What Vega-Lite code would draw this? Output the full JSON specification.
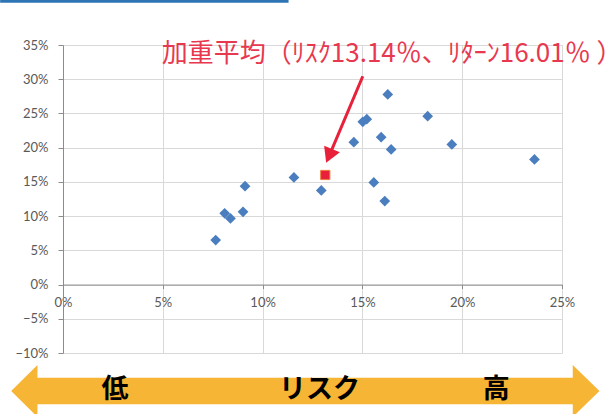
{
  "$schema": "https://vega.github.io/schema/vega-lite/v6.json",
  "width": 499,
  "height": 308,
  "autosize": {"type": "none"},
  "padding": {"left": 63, "top": 45, "right": 53, "bottom": 61},
  "background": "white",
  "config": {
    "view": {"stroke": null},
    "axis": {
      "labelFont": "Lato",
      "labelFontSize": 13,
      "labelColor": "#595959",
      "gridColor": "#D9D9D9",
      "gridWidth": 1,
      "domainColor": "#8C8C8C",
      "tickColor": "#8C8C8C",
      "title": null
    }
  },
  "layer": [
    {
      "data": {"values": [
        {"x": 0.0765, "y": 0.065},
        {"x": 0.081, "y": 0.104},
        {"x": 0.0839, "y": 0.0966},
        {"x": 0.0902, "y": 0.1063},
        {"x": 0.0912, "y": 0.1438},
        {"x": 0.1157, "y": 0.1565},
        {"x": 0.1294, "y": 0.1375},
        {"x": 0.1457, "y": 0.208},
        {"x": 0.1502, "y": 0.2377},
        {"x": 0.1522, "y": 0.2416},
        {"x": 0.1557, "y": 0.1492},
        {"x": 0.1594, "y": 0.2153},
        {"x": 0.1612, "y": 0.1219},
        {"x": 0.1627, "y": 0.2777},
        {"x": 0.1644, "y": 0.1974},
        {"x": 0.1827, "y": 0.246},
        {"x": 0.1948, "y": 0.2047},
        {"x": 0.2362, "y": 0.1828}
      ]},
      "mark": {"type": "point", "shape": "diamond", "filled": true, "size": 115, "color": "#4A7EBF", "opacity": 1},
      "encoding": {
        "x": {"field": "x", "type": "quantitative",
          "scale": {"domain": [0, 0.25], "nice": false, "zero": false},
          "axis": {"values": [0, 0.05, 0.1, 0.15, 0.2, 0.25], "tickCount": 20, "format": ".0%", "offset": -68.44, "grid": true, "tickSize": 4, "labelPadding": 8, "labelFlush": false}},
        "y": {"field": "y", "type": "quantitative",
          "scale": {"domain": [-0.1, 0.35], "nice": false, "zero": false},
          "axis": {"values": [-0.1, -0.05, 0, 0.05, 0.1, 0.15, 0.2, 0.25, 0.3, 0.35], "tickCount": 20, "format": ".0%", "grid": true, "tickSize": 5, "labelPadding": 10, "labelOverlap": false}}
      }
    },
    {
      "data": {"values": [{"x": 0.1314, "y": 0.1601}]},
      "mark": {"type": "point", "shape": "square", "filled": true, "size": 85, "fill": "#E8203A", "stroke": "#F07C3C", "strokeWidth": 1, "opacity": 1},
      "encoding": {
        "x": {"field": "x", "type": "quantitative"},
        "y": {"field": "y", "type": "quantitative"}
      }
    },
    {
      "data": {"values": [{"x": 0.1502, "y": 0.3044, "x2": 0.1342, "y2": 0.1939}]},
      "mark": {"type": "rule", "color": "#E8203A", "strokeWidth": 3},
      "encoding": {
        "x": {"field": "x", "type": "quantitative"},
        "y": {"field": "y", "type": "quantitative"},
        "x2": {"field": "x2"},
        "y2": {"field": "y2"}
      }
    },
    {
      "data": {"values": [{"x": 0.13185, "y": 0.1778}]},
      "mark": {"type": "point", "shape": "M0,0L-0.57,-1L0.57,-1Z", "filled": true, "size": 900, "color": "#E8203A", "opacity": 1, "angle": 22.9},
      "encoding": {
        "x": {"field": "x", "type": "quantitative"},
        "y": {"field": "y", "type": "quantitative"}
      }
    },
    {
      "data": {"values": [{"x": 0.0495, "y": 0.3365, "label": "加重平均（ﾘｽｸ13.14％、ﾘﾀｰﾝ16.01％ ）"}]},
      "mark": {"type": "text", "align": "left", "baseline": "middle", "font": "Noto Sans CJK JP", "fontSize": 26, "color": "#E8384F"},
      "encoding": {
        "x": {"field": "x", "type": "quantitative"},
        "y": {"field": "y", "type": "quantitative"},
        "text": {"field": "label"}
      }
    },
    {
      "data": {"values": [{"x": -0.0315, "x2": 0.113, "y": 0.4139}]},
      "mark": {"type": "rule", "color": "#2E75B6", "strokeWidth": 3},
      "encoding": {
        "x": {"field": "x", "type": "quantitative"},
        "x2": {"field": "x2"},
        "y": {"field": "y", "type": "quantitative"}
      }
    },
    {
      "data": {"values": [{"x": 0.1214, "y": -0.1555}]},
      "mark": {"type": "point", "shape": "M-1,0L-0.9106,-0.0884L-0.9106,-0.0453L0.9092,-0.0453L0.9092,-0.0884L1,0L0.9092,0.0884L0.9092,0.0453L-0.9106,0.0453L-0.9106,0.0884Z", "filled": true, "size": 346097, "color": "#F7B535", "opacity": 1, "strokeWidth": 0},
      "encoding": {
        "x": {"field": "x", "type": "quantitative"},
        "y": {"field": "y", "type": "quantitative"}
      }
    },
    {
      "data": {"values": [
        {"x": 0.026, "y": -0.154, "label": "低"},
        {"x": 0.1285, "y": -0.154, "label": "リスク"},
        {"x": 0.217, "y": -0.154, "label": "高"}
      ]},
      "mark": {"type": "text", "align": "center", "baseline": "middle", "font": "Noto Sans CJK JP", "fontSize": 27, "fontWeight": "bold", "color": "#000000"},
      "encoding": {
        "x": {"field": "x", "type": "quantitative"},
        "y": {"field": "y", "type": "quantitative"},
        "text": {"field": "label"}
      }
    }
  ]
}
